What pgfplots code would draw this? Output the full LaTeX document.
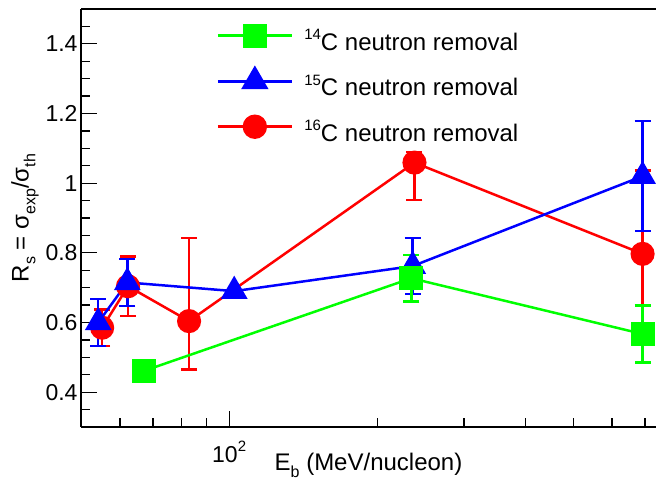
\documentclass[border=0pt]{standalone}
\usepackage{fontspec}
\setmainfont{Liberation Sans}
\usepackage{pgfplots}
\pgfplotsset{compat=1.18}
\definecolor{rgreen}{RGB}{0,255,0}
\definecolor{rblue}{RGB}{0,0,255}
\definecolor{rred}{RGB}{255,0,0}
\newcommand{\lo}[1]{\raisebox{-0.28em}{\fontsize{16}{16}\selectfont #1}}
\newcommand{\hi}[1]{\raisebox{0.45em}{\fontsize{15}{15}\selectfont #1}}
\newcommand{\lstrut}{\rule[-14pt]{0pt}{45pt}}
\begin{document}
\begin{tikzpicture}
\begin{axis}[
    scale only axis,
    width=575pt, height=418pt,
    xmode=log, xmin=50, xmax=737,
    ymin=0.3, ymax=1.5,
    axis x line*=box, axis y line*=left,
    xtick pos=bottom, ytick pos=left,
    axis line style={line width=1.5pt},
    tick style={line width=1.2pt, black},
    major tick length=16pt, minor tick length=9pt,
    xtick={100}, xticklabels={10\hi{2}},
    minor xtick={50,60,70,80,90,200,300,400,500,600,700},
    ytick={0.4,0.6,0.8,1,1.2,1.4},
    minor ytick={0.35,0.45,0.5,0.55,0.65,0.7,0.75,0.85,0.9,0.95,1.05,1.1,1.15,1.25,1.3,1.35,1.45},
    /pgf/number format/assume math mode=true,
    tick label style={font=\fontsize{23}{23}\selectfont},
    xticklabel style={anchor=center, yshift=-25pt},
    xlabel={E\lo{b} (MeV/nucleon)},
    ylabel={R\lo{s} = σ\lo{exp}/σ\lo{th}},
    label style={font=\fontsize{24}{24}\selectfont},
    xlabel style={at={(axis description cs:0.5,-0.092)}, anchor=center},
    ylabel style={at={(axis description cs:-0.0974,0.5)}, anchor=center},
    reverse legend,
    legend style={draw=none, fill=none, at={(axis description cs:0.230,0.985)}, anchor=north west,
        font=\fontsize{24}{24}\selectfont, row sep=9pt, column sep=9pt, cells={anchor=west}},
    legend image code/.code={\draw[mark repeat=2, mark phase=2, #1, line width=2.8pt] plot coordinates {(0pt,0pt)(37pt,0pt)(74pt,0pt)};},
]
\addplot[rred, line width=2.5pt, mark=*, mark size=10.8pt, mark options={solid},
    error bars/.cd, y dir=both, y explicit,
    error bar style={line width=2.5pt},
    error mark options={rotate=90, mark size=8pt, line width=2.5pt}]
coordinates {
    (55.2,0.585) += (0,0.053) -= (0,0.053)
    (62.3,0.704) += (0,0.086) -= (0,0.086)
    (82.9,0.604) += (0,0.239) -= (0,0.139)
    (238,1.059) += (0,0.030) -= (0,0.108)
    (692,0.797) += (0,0.240) -= (0,0.240)
};
\addlegendentry{\lstrut\hi{16}C neutron removal}
\addplot[rblue, line width=2.5pt, mark=triangle*, mark size=13pt, mark options={solid},
    error bars/.cd, y dir=both, y explicit,
    error bar style={line width=2.5pt},
    error mark options={rotate=90, mark size=8pt, line width=2.5pt}]
coordinates {
    (54.2,0.600) +- (0,0.068)
    (62.1,0.715) +- (0,0.067)
    (102.4,0.690) +- (0,0)
    (236,0.762) +- (0,0.080)
    (692,1.020) +- (0,0.158)
};
\addlegendentry{\lstrut\hi{15}C neutron removal}
\addplot[rgreen, line width=2.5pt, mark=square*, mark size=10.8pt, mark options={solid},
    error bars/.cd, y dir=both, y explicit,
    error bar style={line width=2.5pt},
    error mark options={rotate=90, mark size=8pt, line width=2.5pt}]
coordinates {
    (67.1,0.461) +- (0,0)
    (234.5,0.727) +- (0,0.067)
    (692,0.567) +- (0,0.082)
};
\addlegendentry{\lstrut\hi{14}C neutron removal}
\end{axis}
\pgfresetboundingbox
\path[use as bounding box] ([xshift=-81pt,yshift=-54pt]current axis.south west) rectangle ([yshift=9pt]current axis.north east);
\end{tikzpicture}
\end{document}
